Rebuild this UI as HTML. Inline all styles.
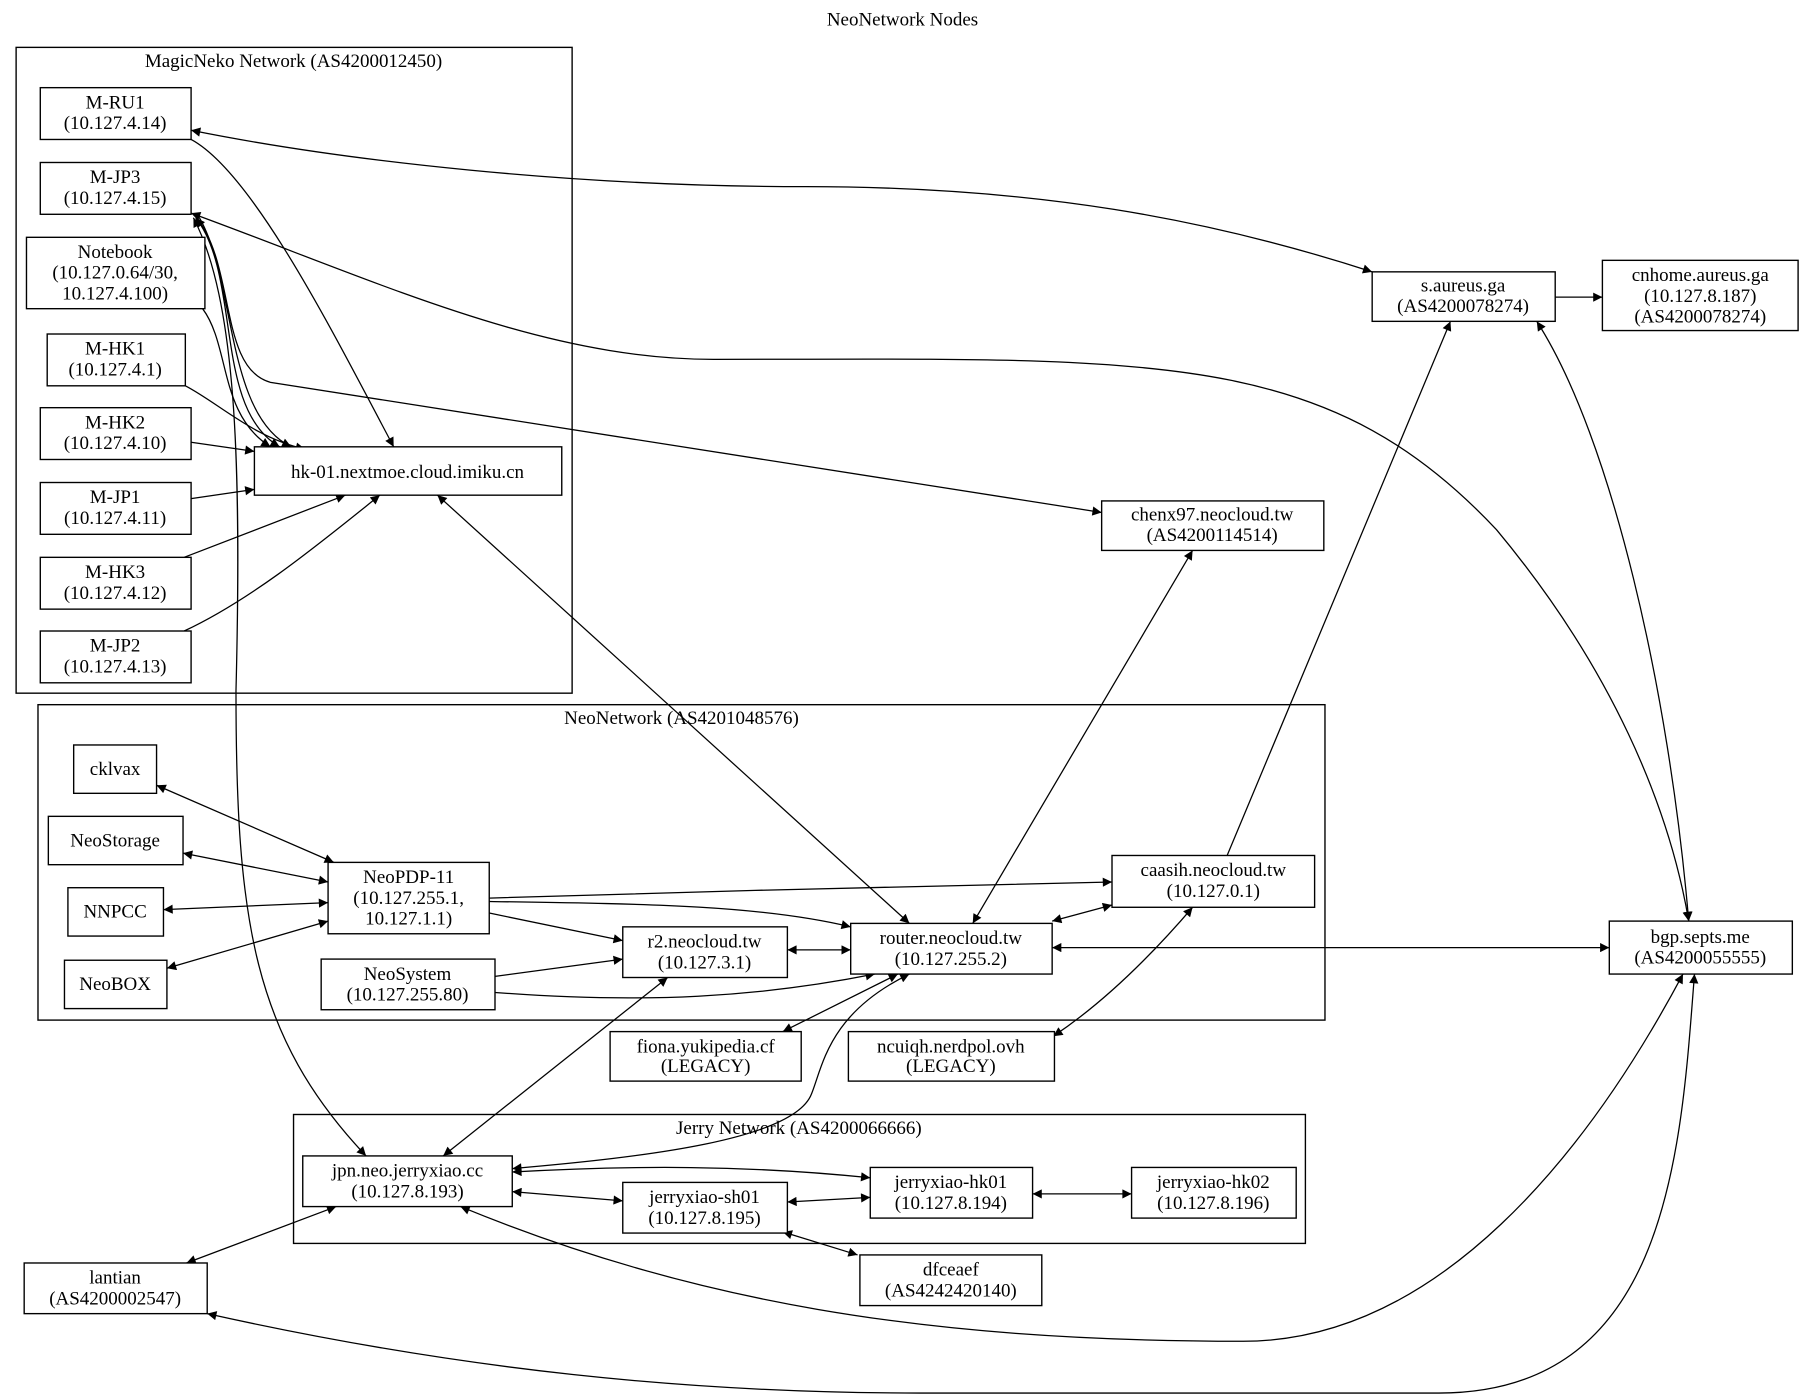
<!DOCTYPE html>
<html><head><meta charset="utf-8"><style>
html,body{margin:0;padding:0;background:#fff;}
svg{display:block;}
text{font-family:"Liberation Serif",serif;font-size:16.5px;fill:#000;text-anchor:middle;}
.n{fill:#fff;stroke:#000;stroke-width:1.2;}
.c{fill:none;stroke:#000;stroke-width:1.2;}
.e{fill:none;stroke:#000;stroke-width:1.1;}
.b{marker-start:url(#a);marker-end:url(#a);}
.f{marker-end:url(#a);}
</style></head><body>
<svg width="1805" height="1399" viewBox="0 0 1568 1215" xmlns="http://www.w3.org/2000/svg">
<defs><marker id="a" viewBox="0 0 10 10" refX="10" refY="5" markerWidth="10" markerHeight="8" markerUnits="userSpaceOnUse" orient="auto-start-reverse"><path d="M0,0 L10,5 L0,10 z" fill="#000"/></marker></defs>
<rect width="1568" height="1215" fill="#fff"/>
<text x="784" y="22">NeoNetwork Nodes</text>

<rect class="c" x="14" y="41" width="483" height="561"/>
<text x="255" y="58">MagicNeko Network (AS4200012450)</text>
<rect class="c" x="33" y="612" width="1118" height="274"/>
<text x="592" y="629">NeoNetwork (AS4201048576)</text>
<rect class="c" x="255" y="968" width="879" height="112"/>
<text x="694" y="985">Jerry Network (AS4200066666)</text>

<!-- edges -->
<path class="e b" d="M166,113 C300,140 500,162 700,162 C900,162 1050,190 1192,236"/>
<path class="e f" d="M166,121 C220,150 290,290 342,388"/>
<path class="e b" d="M166,185 C330,245 470,312 620,312 C1000,312 1150,300 1300,460 C1400,580 1450,700 1467,800"/>
<path class="e f" d="M170,188 C205,230 190,320 235,332 L957,445"/>
<path class="e b" d="M168,189 C205,260 210,400 205,600 C205,800 220,900 318,1004"/>
<path class="e b" d="M170,189 C210,240 185,355 243,388"/>
<path class="e f" d="M172,187 C205,240 195,360 253,388"/>
<path class="e f" d="M176,268 C200,300 190,360 235,388"/>
<path class="e f" d="M161,335 C190,350 220,380 265,390"/>
<path class="e f" d="M166,384 L221,392"/>
<path class="e f" d="M166,433 L221,425"/>
<path class="e f" d="M160,484 L300,430"/>
<path class="e f" d="M160,548 C220,520 280,470 330,430"/>
<path class="e b" d="M380,430 L790,802"/>
<path class="e b" d="M1036,478 L845,802"/>
<path class="e f" d="M1351,258 L1392,258"/>
<path class="e b" d="M1335,279 C1400,380 1450,600 1467,800"/>
<path class="e f" d="M1066,743 L1260,279"/>
<path class="e b" d="M136,682 L290,749"/>
<path class="e b" d="M159,741 L285,766"/>
<path class="e b" d="M142,790 L285,784"/>
<path class="e b" d="M145,841 L285,800"/>
<path class="e f" d="M425,780 C600,774 800,770 966,766"/>
<path class="e f" d="M425,783 C560,785 660,786 739,805"/>
<path class="e f" d="M425,793 L541,817"/>
<path class="e f" d="M430,848 L541,833"/>
<path class="e f" d="M430,862 C560,872 660,866 760,846"/>
<path class="e b" d="M684,825 L739,825"/>
<path class="e b" d="M914,800 L966,786"/>
<path class="e b" d="M914,823 L1398,823"/>
<path class="e b" d="M1036,788 C1000,830 960,870 915,900"/>
<path class="e b" d="M780,846 L680,896"/>
<path class="e b" d="M790,846 C720,880 715,925 705,950 C690,990 560,1005 445,1015"/>
<path class="e b" d="M580,849 L385,1004"/>
<path class="e b" d="M445,1018 C550,1012 650,1012 756,1023"/>
<path class="e b" d="M445,1035 L541,1043"/>
<path class="e b" d="M684,1044 L756,1040"/>
<path class="e b" d="M897,1037 L983,1037"/>
<path class="e b" d="M680,1070 L745,1090"/>
<path class="e b" d="M292,1048 L162,1097"/>
<path class="e b" d="M400,1048 C600,1130 800,1165 1080,1165 C1250,1165 1380,1000 1462,846"/>
<path class="e b" d="M180,1141 C400,1190 600,1210 800,1210 L1250,1210 C1450,1210 1460,1000 1472,846"/>

<!-- nodes -->
<rect class="n" x="35" y="76" width="131" height="45"/><text x="100" y="94">M-RU1</text><text x="100" y="112">(10.127.4.14)</text>
<rect class="n" x="35" y="141" width="131" height="45"/><text x="100" y="159">M-JP3</text><text x="100" y="177">(10.127.4.15)</text>
<rect class="n" x="23" y="206" width="155" height="62"/><text x="100" y="224">Notebook</text><text x="100" y="242">(10.127.0.64/30,</text><text x="100" y="260">10.127.4.100)</text>
<rect class="n" x="41" y="290" width="120" height="45"/><text x="100" y="308">M-HK1</text><text x="100" y="326">(10.127.4.1)</text>
<rect class="n" x="35" y="354" width="131" height="45"/><text x="100" y="372">M-HK2</text><text x="100" y="390">(10.127.4.10)</text>
<rect class="n" x="35" y="419" width="131" height="45"/><text x="100" y="437">M-JP1</text><text x="100" y="455">(10.127.4.11)</text>
<rect class="n" x="35" y="484" width="131" height="45"/><text x="100" y="502">M-HK3</text><text x="100" y="520">(10.127.4.12)</text>
<rect class="n" x="35" y="548" width="131" height="45"/><text x="100" y="566">M-JP2</text><text x="100" y="584">(10.127.4.13)</text>
<rect class="n" x="221" y="388" width="267" height="42"/><text x="354" y="415">hk-01.nextmoe.cloud.imiku.cn</text>

<rect class="n" x="64" y="647" width="72" height="42"/><text x="100" y="673">cklvax</text>
<rect class="n" x="42" y="709" width="117" height="42"/><text x="100" y="735">NeoStorage</text>
<rect class="n" x="59" y="771" width="83" height="42"/><text x="100" y="797">NNPCC</text>
<rect class="n" x="56" y="834" width="89" height="42"/><text x="100" y="860">NeoBOX</text>
<rect class="n" x="285" y="749" width="140" height="62"/><text x="355" y="767">NeoPDP-11</text><text x="355" y="785">(10.127.255.1,</text><text x="355" y="803">10.127.1.1)</text>
<rect class="n" x="279" y="833" width="151" height="44"/><text x="354" y="851">NeoSystem</text><text x="354" y="869">(10.127.255.80)</text>
<rect class="n" x="541" y="805" width="143" height="44"/><text x="612" y="823">r2.neocloud.tw</text><text x="612" y="841">(10.127.3.1)</text>
<rect class="n" x="739" y="802" width="175" height="44"/><text x="826" y="820">router.neocloud.tw</text><text x="826" y="838">(10.127.255.2)</text>
<rect class="n" x="966" y="743" width="176" height="45"/><text x="1054" y="761">caasih.neocloud.tw</text><text x="1054" y="779">(10.127.0.1)</text>
<rect class="n" x="530" y="896" width="166" height="43"/><text x="613" y="914">fiona.yukipedia.cf</text><text x="613" y="931">(LEGACY)</text>
<rect class="n" x="737" y="896" width="179" height="43"/><text x="826" y="914">ncuiqh.nerdpol.ovh</text><text x="826" y="931">(LEGACY)</text>

<rect class="n" x="263" y="1004" width="182" height="44"/><text x="354" y="1022">jpn.neo.jerryxiao.cc</text><text x="354" y="1040">(10.127.8.193)</text>
<rect class="n" x="541" y="1027" width="143" height="44"/><text x="612" y="1045">jerryxiao-sh01</text><text x="612" y="1063">(10.127.8.195)</text>
<rect class="n" x="756" y="1014" width="141" height="44"/><text x="826" y="1032">jerryxiao-hk01</text><text x="826" y="1050">(10.127.8.194)</text>
<rect class="n" x="983" y="1014" width="143" height="44"/><text x="1054" y="1032">jerryxiao-hk02</text><text x="1054" y="1050">(10.127.8.196)</text>
<rect class="n" x="747" y="1090" width="158" height="44"/><text x="826" y="1108">dfceaef</text><text x="826" y="1126">(AS4242420140)</text>
<rect class="n" x="21" y="1097" width="159" height="44"/><text x="100" y="1115">lantian</text><text x="100" y="1133">(AS4200002547)</text>

<rect class="n" x="1192" y="236" width="159" height="43"/><text x="1271" y="253">s.aureus.ga</text><text x="1271" y="271">(AS4200078274)</text>
<rect class="n" x="1392" y="226" width="170" height="61"/><text x="1477" y="244">cnhome.aureus.ga</text><text x="1477" y="262">(10.127.8.187)</text><text x="1477" y="280">(AS4200078274)</text>
<rect class="n" x="957" y="435" width="193" height="43"/><text x="1053" y="452">chenx97.neocloud.tw</text><text x="1053" y="470">(AS4200114514)</text>
<rect class="n" x="1398" y="800" width="159" height="46"/><text x="1477" y="819">bgp.septs.me</text><text x="1477" y="837">(AS4200055555)</text>
</svg>
</body></html>
